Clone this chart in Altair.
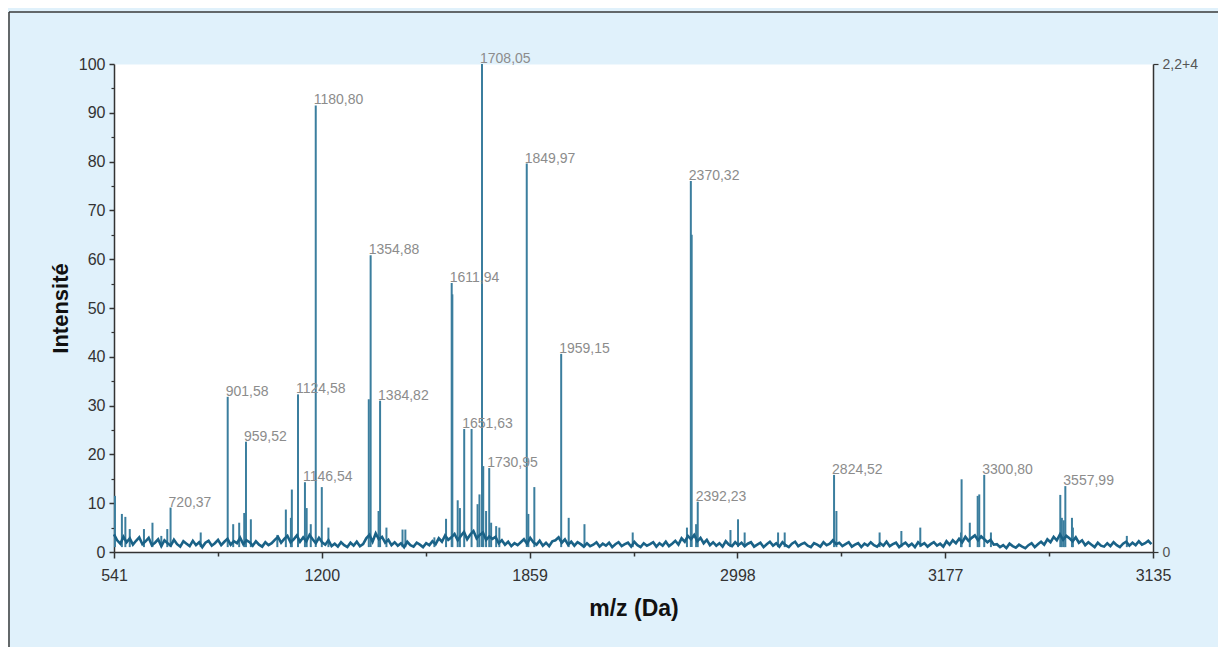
import altair as alt
import pandas as pd

# ---------------- data ----------------
BASE_START = 541
BASE_STEP = 10
BASELINE = [
    3.6, 2.4, 1.7, 3.1, 2.0, 2.8, 1.5, 2.3, 3.0, 1.6,
    2.2, 2.9, 1.4, 1.9, 2.6, 1.2, 2.4, 1.8, 1.3, 2.5,
    1.6, 1.1, 2.2, 1.7, 1.2, 2.3, 1.4, 2.0, 1.0, 1.9,
    2.3, 1.3, 1.8, 2.5, 1.4, 2.1, 2.7, 1.5, 2.2, 1.8,
    2.9, 1.6, 2.4, 2.0, 1.3, 2.2, 1.5, 1.1, 2.0, 1.4,
    1.8, 2.5, 3.1, 1.9, 2.7, 3.3, 2.0, 2.6, 3.4, 2.1,
    3.0, 2.2, 3.5, 2.6, 1.8, 2.9, 2.0, 1.5, 2.4, 1.2,
    1.7, 1.1, 2.0, 1.4, 1.0, 1.9, 1.3, 2.1, 1.2, 1.6,
    2.8, 3.5, 2.1, 3.8, 2.6, 3.1, 1.9, 2.5, 1.4, 2.0,
    1.3, 1.8, 1.0, 2.1, 1.4, 1.1, 1.9, 1.5, 1.0, 1.8,
    1.4, 2.2, 1.6, 2.8, 2.1, 3.4, 2.5, 3.0, 3.7, 2.4,
    3.3, 4.1, 2.6, 3.6, 4.3, 2.8, 3.5, 4.0, 2.5, 3.2,
    2.7, 3.1, 1.8, 2.4, 1.5, 2.1, 1.2, 1.8, 1.4, 2.0,
    2.6, 1.7, 2.9, 2.0, 1.5, 2.3, 1.3, 1.9, 1.2, 2.2,
    2.4, 3.0, 1.9, 2.6, 1.5, 2.1, 1.3, 2.0, 1.6, 1.1,
    1.8, 1.2, 1.5, 2.0, 1.1, 1.7, 1.3, 1.9, 1.0, 1.6,
    2.0, 1.2, 1.6, 1.9, 1.1, 2.1, 1.4, 1.0, 1.8, 1.3,
    1.6, 2.0, 1.1, 1.8, 1.3, 2.1, 1.2, 1.7, 2.3, 1.5,
    2.8, 2.1, 3.3, 2.6, 3.5, 2.2, 2.9, 1.8, 2.5, 1.4,
    2.0, 1.3, 1.8, 1.1, 2.2, 1.5, 1.2, 2.0, 1.4, 1.9,
    1.2, 1.7, 2.0, 1.1, 1.5, 1.9, 1.0, 1.6, 2.1, 1.3,
    1.8, 1.1, 2.0, 1.4, 1.0, 1.7, 2.1, 1.2, 1.6, 1.9,
    1.3, 1.0, 1.8, 1.5, 1.1, 2.0, 1.4, 1.7, 2.4, 1.6,
    1.9, 1.2, 1.6, 2.0, 1.1, 1.5, 1.8, 1.0, 1.7, 1.3,
    2.0, 1.4, 1.1, 1.8, 1.3, 2.1, 1.2, 1.6, 1.9, 1.0,
    1.5, 1.9, 1.2, 1.7, 1.0, 2.0, 1.4, 1.8, 1.1, 1.6,
    2.0, 1.3, 1.7, 1.1, 2.2, 1.5, 2.4, 1.8, 2.7, 2.0,
    3.1, 2.3, 2.9, 3.4, 2.4, 3.2, 2.6, 2.0, 2.5, 1.5,
    1.6, 1.0, 1.4, 0.8, 1.7, 1.2, 0.9, 1.5, 1.1, 0.8,
    1.4, 1.8, 1.0, 1.6, 2.1, 1.5, 2.6, 2.0, 3.1, 2.4,
    3.6, 2.5, 3.3, 2.8, 2.2, 3.0, 1.9, 2.4, 1.4, 2.0,
    1.5, 1.0, 1.9, 1.3, 1.1, 1.8, 1.2, 2.0, 1.4, 1.0,
    1.7, 2.1, 1.3, 1.9, 1.4, 2.2, 1.5, 1.8, 2.3, 1.6,
]

PEAK_MZ = [544, 566, 577, 591, 636, 663, 691, 710, 720.37, 816,
           901.58, 919, 938, 954, 959.52, 975, 1059, 1086, 1102, 1105,
           1124.58, 1146.54, 1152, 1165, 1180.80, 1200, 1221,
           1349, 1354.88, 1380, 1384.82, 1405, 1456, 1465, 1557,
           1594, 1611.94, 1614, 1631, 1638, 1651.63, 1675, 1694, 1700,
           1708.05, 1712, 1721, 1730.95, 1737, 1753, 1763,
           1849.97, 1855, 1874, 1959.15, 1983, 2033, 2186,
           2358, 2370.32, 2373, 2387, 2392.23, 2496, 2520, 2541, 2647, 2668,
           2824.52, 2832, 2969, 3038, 3098, 3227, 3229, 3255, 3280, 3285,
           3300.80, 3322, 3542, 3547, 3553, 3557.99, 3579, 3582, 3753]
PEAK_H = [11.5, 7.8, 7.2, 4.7, 4.7, 6.0, 3.3, 4.7, 9.1, 4.0,
          31.8, 5.7, 6.0, 8.0, 22.6, 6.7, 3.5, 8.7, 7.0, 12.8,
          32.3, 14.3, 9.0, 5.7, 91.5, 13.3, 5.0,
          31.3, 60.8, 8.4, 31.0, 5.0, 4.6, 4.6, 3.0,
          6.8, 55.1, 52.8, 10.6, 9.0, 25.2, 25.2, 9.8, 11.8,
          100.0, 17.6, 8.4, 17.2, 6.0, 5.3, 5.0,
          79.6, 7.8, 13.3, 40.6, 7.0, 5.7, 4.0,
          5.0, 76.0, 65.0, 5.7, 10.3, 4.5, 6.7, 4.0, 4.0, 4.0,
          15.8, 8.4, 4.0, 4.3, 5.0, 4.0, 14.9, 6.0, 11.5, 11.8,
          15.8, 4.0, 11.7, 7.0, 6.5, 13.5, 7.0, 5.0, 3.3]

LABEL_TEXT = ["720,37", "901,58", "959,52", "1124,58", "1146,54", "1180,80",
              "1354,88", "1384,82", "1611,94", "1651,63", "1708,05", "1730,95",
              "1849,97", "1959,15", "2370,32", "2392,23", "2824,52", "3300,80",
              "3557,99"]
LABEL_MZ = [720.37, 901.58, 959.52, 1124.58, 1146.54, 1180.80, 1354.88, 1384.82,
            1611.94, 1651.63, 1708.05, 1730.95, 1849.97, 1959.15, 2370.32,
            2392.23, 2824.52, 3300.80, 3557.99]
LABEL_H = [9.1, 31.8, 22.6, 32.3, 14.3, 91.5, 60.8, 31.0, 55.1, 25.2, 100.0,
           17.2, 79.6, 40.6, 76.0, 10.3, 15.8, 15.8, 13.5]

X_TICKS = [541, 1200, 1859, 2518, 3177, 3836]
X_TICK_LABELS = ["541", "1200", "1859", "2998", "3177", "3135"]
X_MINOR = [870.5, 1529.5, 2188.5, 2847.5, 3506.5]
Y_TICKS = list(range(0, 101, 10))
Y_MINOR = list(range(5, 100, 10))
RIGHT_LABELS = {0: "0", 100: "2,2+4"}

# ---------------- tables ----------------
base_df = pd.DataFrame({
    "mz": [BASE_START + BASE_STEP * i for i in range(len(BASELINE))],
    "val": BASELINE,
})
peak_df = pd.DataFrame({"mz": PEAK_MZ, "h": PEAK_H})
label_df = pd.DataFrame({"mz": LABEL_MZ, "h": LABEL_H, "txt": LABEL_TEXT})

xlabel_expr = " : ".join(
    f"datum.value == {v} ? '{t}'" for v, t in zip(X_TICKS, X_TICK_LABELS)
) + " : ''"
rlabel_expr = f"datum.value == 100 ? '{RIGHT_LABELS[100]}' : '{RIGHT_LABELS[0]}'"

FONT = "Liberation Sans"
AX = "#333333"
xscale = alt.Scale(domain=[541, 3836], nice=False, zero=False)
yscale = alt.Scale(domain=[0, 100], nice=False)

W, H = 1039, 488

peaks = alt.Chart(peak_df).mark_rule(color="#3b7e9e", strokeWidth=2).encode(
    x=alt.X("mz:Q", scale=xscale, axis=alt.Axis(
        orient="bottom",
        values=X_TICKS, labelExpr=xlabel_expr, title="m/z (Da)",
        titleFontSize=23, titleFontWeight="bold", titleColor="#111111",
        titleY=56, titleBaseline="middle", titleFont=FONT,
        labelFont=FONT, labelFontSize=16, labelColor=AX, labelPadding=9,
        labelFlush=False, labelOverlap=False,
        domainColor=AX, domainWidth=1.5, tickColor=AX, tickWidth=1.5, tickSize=6,
        grid=False)),
    y=alt.Y("h:Q", scale=yscale, axis=alt.Axis(
        orient="left",
        values=Y_TICKS, title="Intensité", titleFontSize=22, titleFontWeight="bold",
        titleColor="#111111", titleFont=FONT, titleAngle=270, titleX=-54, titleY=H / 2,
        titleAlign="center", titleBaseline="middle",
        labelFont=FONT, labelFontSize=16, labelColor=AX, labelPadding=4,
        domainColor=AX, domainWidth=1.5, tickColor=AX, tickWidth=1.5, tickSize=5,
        grid=False)),
    y2=alt.datum(1.0),
)

line = alt.Chart(base_df).mark_line(color="#1a6287", strokeWidth=2.6).encode(
    x=alt.X("mz:Q", scale=xscale, axis=alt.Axis(
        orient="bottom", offset=0,
        values=X_MINOR, labels=False, domain=False, title=None,
        tickColor=AX, tickWidth=1.5, tickSize=4, grid=False)),
    y=alt.Y("val:Q", scale=yscale, axis=alt.Axis(
        orient="left", offset=0,
        values=Y_MINOR, labels=False, domain=False, title=None,
        tickColor=AX, tickWidth=1.2, tickSize=3, grid=False)),
)

labels = alt.Chart(label_df).mark_text(
    align="left", baseline="middle", dx=-2, dy=-5, font=FONT, fontSize=14,
    color="#8c8c8c",
).encode(
    x=alt.X("mz:Q", scale=xscale, axis=None),
    y=alt.Y("h:Q", scale=yscale, axis=alt.Axis(
        orient="right", values=[0, 100], labelExpr=rlabel_expr, title=None,
        labelFont=FONT, labelFontSize=14, labelColor="#555555", labelPadding=4,
        domainColor=AX, domainWidth=1.5, tickColor=AX, tickWidth=1.2, tickSize=5,
        grid=False)),
    text="txt:N",
)

dummy = pd.DataFrame({"a": [0]})
frame_left = alt.Chart(dummy).mark_rule(color="#3a3a3a", strokeWidth=1.5).encode(
    x=alt.value(-105), y=alt.value(-52), y2=alt.value(H + 95))
frame_top = alt.Chart(dummy).mark_rule(color="#3a3a3a", strokeWidth=1.5).encode(
    x=alt.value(-105), x2=alt.value(W + 65), y=alt.value(-52))

chart = alt.layer(frame_left, frame_top, peaks, line, labels).resolve_scale(
    y="shared", x="shared"
).resolve_axis(
    y="independent", x="independent"
).properties(
    width=W, height=H,
    autosize=alt.AutoSizeParams(type="none"),
    padding={"left": 106, "top": 56, "right": 65, "bottom": 95},
    background="#e0f1fb",
).configure_view(
    fill="white", strokeOpacity=0
)

chart.save("out.html", embed_options={"renderer": "svg", "actions": False})
